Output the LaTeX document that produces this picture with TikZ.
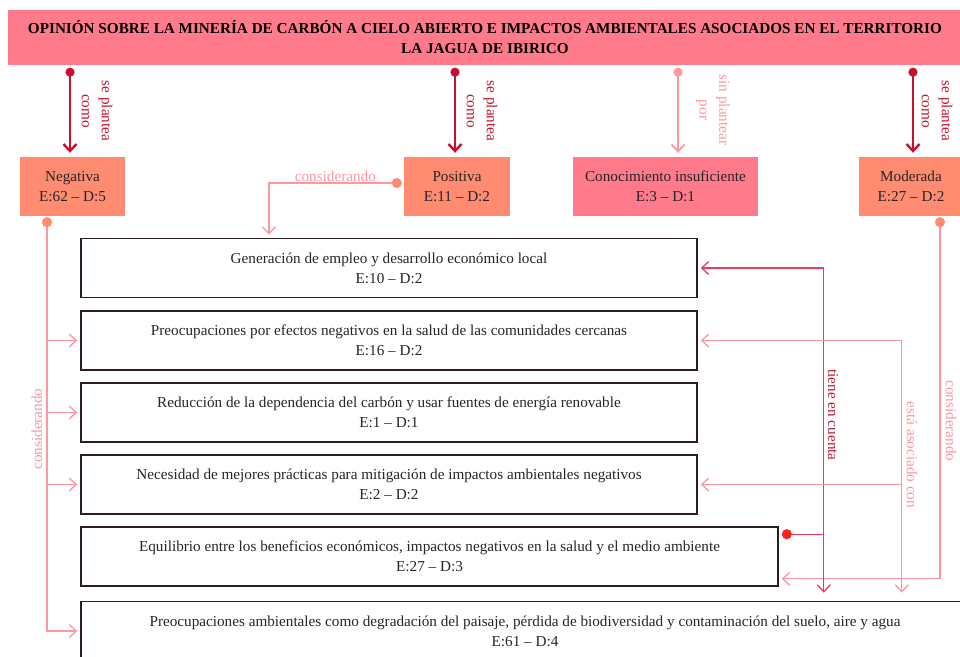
\documentclass[tikz,border=0pt]{standalone}
\usepackage{fontspec}
\setmainfont{Liberation Serif}
\usetikzlibrary{arrows.meta,calc}

\definecolor{titlepink}{RGB}{255,122,138}
\definecolor{salmon}{RGB}{255,140,112}
\definecolor{planred}{RGB}{200,16,46}
\definecolor{softpink}{RGB}{255,150,160}
\definecolor{midred}{RGB}{236,58,92}
\definecolor{tienetext}{RGB}{185,28,58}
\definecolor{boxline}{RGB}{45,30,30}

\begin{document}
\begin{tikzpicture}[x=1pt,y=-1pt,font=\fontsize{15.2}{20}\selectfont,
  opbox/.style={fill=salmon,minimum height=59,inner sep=0,align=center,text=black!85},
  causebox/.style={draw=boxline,line width=1.6pt,fill=white,minimum height=59,inner sep=0,align=center,text=black!85},
  plantea/.style={planred,line width=2.4pt,{Circle[length=9pt]}-{Straight Barb[length=7pt,width=13pt]},shorten >=4pt},
  sinplan/.style={softpink,line width=1.8pt,{Circle[length=9pt]}-{Straight Barb[length=7pt,width=13pt]},shorten >=4pt},
  consid/.style={softpink,line width=1.3pt},
  conslink/.style={consid,{Circle[length=10pt,color=salmon]}-{Straight Barb[length=7pt,width=13pt]},shorten >=3pt},
  tiene/.style={midred,line width=1.3pt},
  tip/.style={-{Straight Barb[length=7pt,width=13pt]},shorten >=3pt},
  twotip/.style={{Straight Barb[length=7pt,width=13pt]}-{Straight Barb[length=7pt,width=13pt]},shorten <=3pt,shorten >=8pt},
  lbl/.style={inner sep=0,align=center}]
  \path[use as bounding box,clip] (0,0) rectangle (960,656);

  % titulo
  \node[fill=titlepink,minimum width=954,minimum height=55,inner sep=0,align=center,
    font=\fontsize{15.2}{20}\selectfont\bfseries] (title) at (485,37.5)
    {OPINIÓN SOBRE LA MINERÍA DE CARBÓN A CIELO ABIERTO E IMPACTOS AMBIENTALES ASOCIADOS EN EL TERRITORIO\\LA JAGUA DE IBIRICO};

  % opiniones
  \node[opbox,minimum width=105] (neg) at (72.5,186.5) {Negativa\\E:62 -- D:5};
  \node[opbox,minimum width=106] (pos) at (457,186.5) {Positiva\\E:11 -- D:2};
  \node[opbox,fill=titlepink,minimum width=185] (cono) at (665.5,186.5) {Conocimiento insuficiente\\E:3 -- D:1};
  \node[opbox,minimum width=104] (mod) at (911,186.5) {Moderada\\E:27 -- D:2};

  % aspectos
  \foreach \n/\cx/\cy/\w/\t in {
    gen/389/268/616/{Generación de empleo y desarrollo económico local\\E:10 -- D:2},
    salud/389/340.5/616/{Preocupaciones por efectos negativos en la salud de las comunidades cercanas\\E:16 -- D:2},
    redu/389/412.5/616/{Reducción de la dependencia del carbón y usar fuentes de energía renovable\\E:1 -- D:1},
    nece/389/484.5/616/{Necesidad de mejores prácticas para mitigación de impactos ambientales negativos\\E:2 -- D:2},
    equi/429.5/556.5/697/{Equilibrio entre los beneficios económicos, impactos negativos en la salud y el medio ambiente\\E:27 -- D:3},
    envi/525/631/888/{Preocupaciones ambientales como degradación del paisaje, pérdida de biodiversidad y contaminación del suelo, aire y agua\\E:61 -- D:4}}
    \node[causebox,minimum width=\w] (\n) at (\cx,\cy) {\t};

  % se plantea como
  \draw[plantea] ($(title.south -| neg)+(-2.5,2.5)$) -- ([xshift=-2.5pt]neg.north);
  \draw[plantea] ($(title.south -| pos)+(-2,2.5)$) -- ([xshift=-2pt]pos.north);
  \draw[plantea] ($(title.south -| mod)+(2,2.5)$) -- ([xshift=2pt]mod.north);
  \draw[sinplan] ($(title.south -| cono)+(12.5,2.5)$) -- ([xshift=12.5pt]cono.north);
  \node[lbl,text=planred,rotate=-90] at (97,111) {se plantea\\como};
  \node[lbl,text=planred,rotate=-90] at (482,111) {se plantea\\como};
  \node[lbl,text=planred,rotate=-90] at (937,111) {se plantea\\como};
  \node[lbl,text=softpink,rotate=-90] at (713,110) {sin plantear\\por};

  % considerando
  \coordinate (negx) at ($(neg.south)+(-25.5,0)$);
  \draw[conslink] ($(negx)+(0,1)$) |- (envi.west);
  \foreach \b in {salud,redu,nece}
    \draw[consid,tip] (\b.west -| negx) -- (\b.west);
  \node[lbl,text=softpink,rotate=90] at (37,429) {considerando};

  \draw[conslink] ($(pos.west)+(-2,-3.5)$) -| ($(gen.north)+(-120,0)$)
    node[pos=0.25,above=1pt,lbl,text=softpink] {considerando};

  \draw[conslink] ($(mod.south)+(29,1)$) |- ($(equi.south east)+(0,-8)$);
  \node[lbl,text=softpink,rotate=-90] at (951,421) {considerando};

  % tiene en cuenta
  \coordinate (tk) at ($(equi.north east)+(45,0)$);
  \draw[tiene,{Circle[length=10pt,color=red!85!pink]}-] ($(equi.north east)+(3,8)$) -- ($(equi.north east)+(45,8)$);
  \draw[tiene,twotip] (gen.east) -| (envi.north -| tk);
  \node[lbl,text=tienetext,rotate=-90] at (833,415) {tiene en cuenta};

  % esta asociado con
  \coordinate (as) at ($(equi.north east)+(123,0)$);
  \draw[consid,twotip] (salud.east) -| (envi.north -| as);
  \draw[consid,tip] (nece.east -| as) -- (nece.east);
  \node[lbl,text=softpink,rotate=-90] at (912,455) {está asociado con};
\end{tikzpicture}
\end{document}
